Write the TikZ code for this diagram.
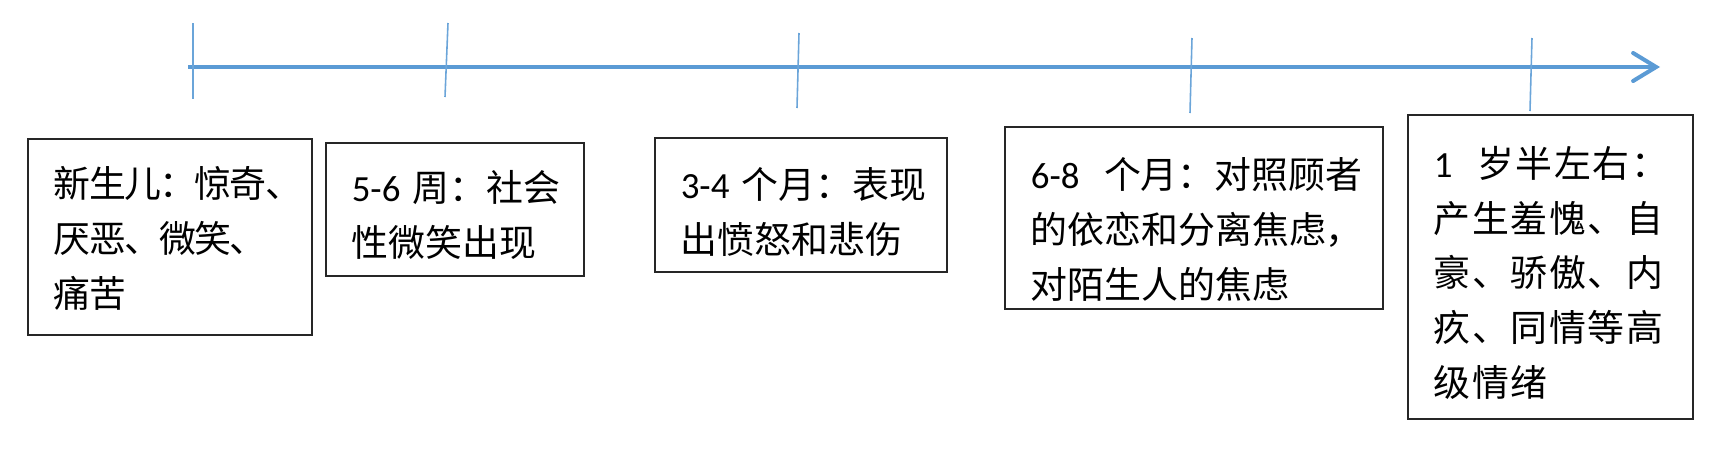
\documentclass[tikz,border=0pt]{standalone}
\usepackage{fontspec}
\setmainfont{Carlito}
\newfontfamily\cjk{Noto Sans CJK SC}
\newfontfamily\calfont{Carlito}
\usetikzlibrary{arrows.meta}
\definecolor{axisblue}{HTML}{5B9BD5}
\newcommand{\firstgap}[1]{\rule{0pt}{#1}}

\begin{document}
\begin{tikzpicture}[x=0.02cm, y=-0.02cm, font=\fontsize{21pt}{31.3pt}\selectfont\cjk, axis/.style={draw=axisblue, line width=2.3pt}, tick/.style={draw=axisblue!90, line width=0.9pt}, stage/.style={draw=black!85, line width=0.9pt, anchor=north west, align=left, inner xsep=0.52cm, inner ysep=0pt}]
\useasboundingbox (0,0) rectangle (1722,450);
% time axis with its marks
\coordinate (birth) at (188,67); \coordinate (later) at (1660,67);
\draw[axis, -{Straight Barb[length=0.46cm, width=0.56cm, line cap=round]}] (birth) -- (later);
\draw[tick] (193,23) -- (193,99); \draw[tick] (448,23) -- (445,97); \draw[tick] (799,33) -- (797,108); \draw[tick] (1192,38) -- (1190,113); \draw[tick] (1532,38) -- (1530,111);
% stages
\node[stage, minimum width=5.68cm, minimum height=3.92cm, text width=4.64cm] (newborn) at (27,138) {\addfontfeature{LetterSpace=-4.5}\firstgap{0.68cm}新生儿：惊奇、\\厌恶、微笑、\\痛苦};
\node[stage, minimum width=5.16cm, minimum height=2.66cm, text width=4.12cm] (weeks) at (325,142) {\firstgap{0.84cm}\mbox{\calfont 5-6~}周：社会\\性微笑出现};
\node[stage, minimum width=5.84cm, minimum height=2.68cm, text width=4.8cm] (threemonths) at (654,137) {\firstgap{0.91cm}\mbox{\calfont 3-4~}个月：表现\\出愤怒和悲伤};
\node[stage, minimum width=7.56cm, minimum height=3.64cm, text width=6.52cm] (sixmonths) at (1004,126) {\firstgap{1.08cm}\mbox{\calfont 6-8~~}个月：对照顾者\\的依恋和分离焦虑，\\对陌生人的焦虑};
\node[stage, minimum width=5.7cm, minimum height=6.08cm, text width=4.66cm] (halfyear) at (1407,114) {\addfontfeature{LetterSpace=4.5}\firstgap{0.87cm}\mbox{\calfont 1~~}岁半左右：\\产生羞愧、自\\豪、骄傲、内\\疚、同情等高\\级情绪};
\end{tikzpicture}
\end{document}
